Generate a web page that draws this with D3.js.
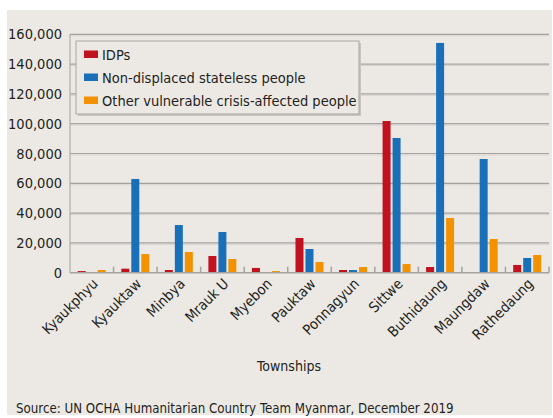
<!DOCTYPE html>
<html>
<head>
    <script src="https://d3js.org/d3.v7.min.js"></script>
    <style>
        body { margin: 0; background: #fff; }
        svg text { font-family: "DejaVu Sans Condensed", "Liberation Sans Narrow", sans-serif; fill: #231f20; }
    </style>
</head>
<body>
    <svg id="chart" width="553" height="418"></svg>
    <script>
        const townships = ["Kyaukphyu", "Kyauktaw", "Minbya", "Mrauk U", "Myebon", "Pauktaw",
            "Ponnagyun", "Sittwe", "Buthidaung", "Maungdaw", "Rathedaung"];
        const seriesNames = ["IDPs", "Non-displaced stateless people", "Other vulnerable crisis-affected people"];
        const idps = [1100, 2700, 1800, 11200, 3200, 23300, 1800, 101800, 3800, 0, 5200];
        const stateless = [0, 62900, 32000, 27300, 0, 15900, 1800, 90400, 154200, 76300, 9900];
        const otherVulnerable = [1800, 12500, 13900, 9200, 1100, 7200, 3800, 5800, 36700, 22600, 11900];
        const yTicks = [0, 20000, 40000, 60000, 80000, 100000, 120000, 140000, 160000];
        const colors = ["#c1131f", "#1a70b8", "#f39200"];

        const svg = d3.select("#chart");
        const margin = { top: 34.3, left: 70, right: 549, bottom: 272.7 };

        // panel background
        svg.append("rect")
            .attr("x", 7).attr("y", 10)
            .attr("width", 545).attr("height", 405)
            .attr("fill", "#ece9e5");

        const x0 = d3.scaleBand().domain(townships).range([margin.left, margin.right]);
        const x1 = d3.scaleBand().domain(seriesNames).range([7.75, 35.75]).paddingInner(0.2);
        const y = d3.scaleLinear().domain([0, 160000]).range([margin.bottom, margin.top]);

        // gridlines
        const grid = svg.append("g");
        grid.selectAll(".shadow")
            .data(yTicks.slice(1))
            .join("line")
            .attr("x1", margin.left).attr("x2", margin.right)
            .attr("y1", d => y(d) + 1.5).attr("y2", d => y(d) + 1.5)
            .attr("stroke", "#d6d3cf").attr("stroke-width", 1);
        grid.selectAll(".gl")
            .data(yTicks.slice(1))
            .join("line")
            .attr("x1", margin.left).attr("x2", margin.right)
            .attr("y1", d => y(d)).attr("y2", d => y(d))
            .attr("stroke", "#a4a2a0").attr("stroke-width", 1.2);

        // y axis line
        svg.append("line")
            .attr("x1", margin.left).attr("x2", margin.left)
            .attr("y1", margin.top).attr("y2", margin.bottom)
            .attr("stroke", "#b0aeab").attr("stroke-width", 1.2);

        // y labels
        svg.append("g").selectAll("text")
            .data(yTicks)
            .join("text")
            .attr("x", 62)
            .attr("y", d => y(d) + 5)
            .attr("text-anchor", "end")
            .attr("font-size", 14.5)
            .text(d => d3.format(",")(d));

        // bars
        const rows = townships.map((t, i) => ({ town: t, vals: [idps[i], stateless[i], otherVulnerable[i]] }));
        svg.append("g").selectAll("g")
            .data(rows)
            .join("g")
            .attr("transform", d => `translate(${x0(d.town)},0)`)
            .selectAll("rect")
            .data(d => d.vals.map((v, k) => ({ key: seriesNames[k], v, k })))
            .join("rect")
            .attr("x", d => x1(d.key))
            .attr("y", d => y(d.v))
            .attr("width", x1.bandwidth())
            .attr("height", d => y(0) - y(d.v))
            .attr("fill", d => colors[d.k]);

        // x axis baseline and ticks
        svg.append("line")
            .attr("x1", margin.left).attr("x2", margin.right)
            .attr("y1", margin.bottom).attr("y2", margin.bottom)
            .attr("stroke", "#a4a2a0").attr("stroke-width", 1.5);
        svg.append("g").selectAll("line")
            .data(townships.slice(1).concat(["end"]))
            .join("line")
            .attr("x1", (d, i) => margin.left + x0.bandwidth() * (i + 1))
            .attr("x2", (d, i) => margin.left + x0.bandwidth() * (i + 1))
            .attr("y1", margin.bottom - 6).attr("y2", margin.bottom)
            .attr("stroke", "#a4a2a0").attr("stroke-width", 1.5);

        // x labels
        svg.append("g").selectAll("text")
            .data(townships)
            .join("text")
            .attr("transform", d => `translate(${x0(d) + x0.bandwidth() / 2 + 7},${margin.bottom + 12}) rotate(-45)`)
            .attr("text-anchor", "end")
            .attr("font-size", 14.5)
            .text(d => d);

        svg.append("text")
            .attr("x", 289).attr("y", 371)
            .attr("text-anchor", "middle")
            .attr("font-size", 14)
            .text("Townships");

        svg.append("text")
            .attr("x", 16).attr("y", 413)
            .attr("font-size", 13.2)
            .text("Source: UN OCHA Humanitarian Country Team Myanmar, December 2019");

        // legend
        const legend = svg.append("g");
        legend.append("rect")
            .attr("x", 78).attr("y", 43).attr("width", 283).attr("height", 73)
            .attr("fill", "#c8c5c1");
        legend.append("rect")
            .attr("x", 76).attr("y", 41).attr("width", 283).attr("height", 73)
            .attr("fill", "#ece9e5").attr("stroke", "#a9a7a4").attr("stroke-width", 1);
        legend.selectAll(".sw")
            .data(seriesNames)
            .join("rect")
            .attr("x", 84).attr("y", (d, i) => 50.5 + i * 23)
            .attr("width", 14).attr("height", 7.5)
            .attr("fill", (d, i) => colors[i]);
        legend.selectAll("text")
            .data(seriesNames)
            .join("text")
            .attr("x", 102).attr("y", (d, i) => 59.5 + i * 23)
            .attr("font-size", 14.5)
            .text(d => d);
    </script>
</body>
</html>
